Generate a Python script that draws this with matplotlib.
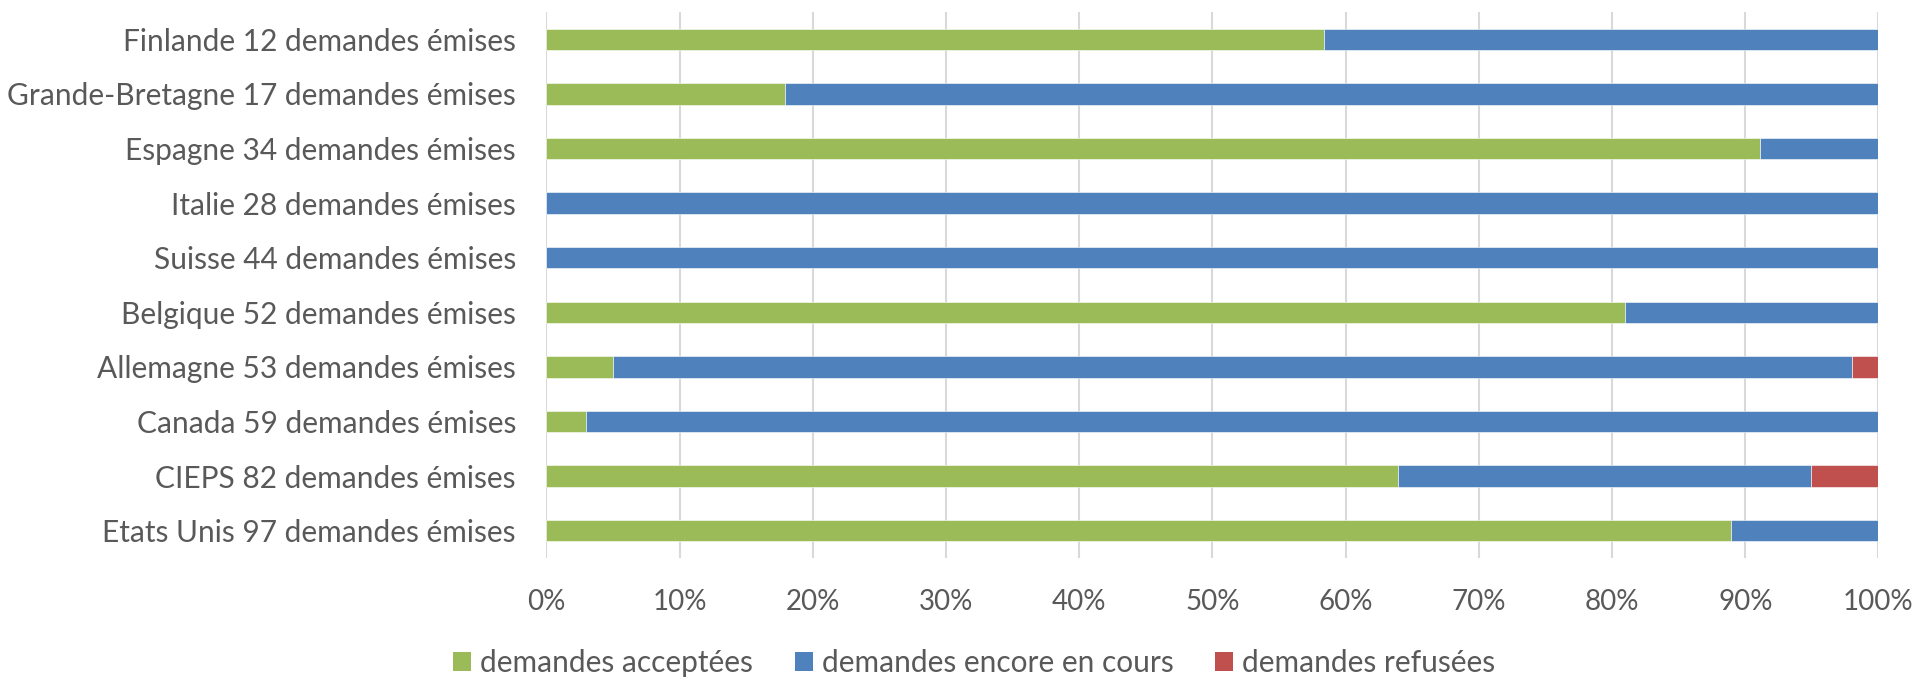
import matplotlib as mpl
import matplotlib.pyplot as plt
import numpy as np
from matplotlib.patches import Patch

plt.rcParams['font.family'] = ['Lato', 'DejaVu Sans']

categories = ["Etats Unis 97 demandes émises",
              "CIEPS 82 demandes émises",
              "Canada 59 demandes émises",
              "Allemagne 53 demandes émises",
              "Belgique 52 demandes émises",
              "Suisse 44 demandes émises",
              "Italie 28 demandes émises",
              "Espagne 34 demandes émises",
              "Grande-Bretagne 17 demandes émises",
              "Finlande 12 demandes émises"]

# shares in %
acceptees = [88.9, 63.9, 3.0, 5.0, 81.0, 0.0, 0.0, 91.1, 17.9, 58.4]
en_cours = [11.1, 31.0, 97.0, 93.0, 19.0, 100.0, 100.0, 8.9, 82.1, 41.6]
refusees = [0.0, 5.1, 0.0, 2.0, 0.0, 0.0, 0.0, 0.0, 0.0, 0.0]

series_names = ["demandes acceptées", "demandes encore en cours", "demandes refusées"]
colors = ["#9BBB59", "#4F81BD", "#C0504D"]
txt = "#595959"

fig = plt.figure(figsize=(19.18, 6.78), dpi=100)
ax = fig.add_axes([0.2849, 0.177, 0.6945, 0.8053])

y = np.arange(len(categories))
left = np.zeros(len(categories))
for vals, c in zip([acceptees, en_cours, refusees], colors):
    vals = np.array(vals)
    ax.barh(y, vals, left=left, height=0.39, color=c, edgecolor='white', linewidth=0.4, zorder=3)
    left = left + vals

ax.set_xlim(0, 100)
ax.set_ylim(-0.5, len(categories) - 0.5)
ax.set_xticks(np.arange(0, 101, 10))
ax.set_xticklabels([f"{v}%" for v in range(0, 101, 10)])
ax.set_yticks(y)
ax.set_yticklabels(categories)
ax.tick_params(axis='y', length=0, labelsize=21.5, labelcolor=txt, pad=22)
ax.tick_params(axis='x', length=0, labelsize=20, labelcolor=txt, pad=22)
ax.grid(axis='x', color='#D9D9D9', linewidth=1.5, zorder=0)
for s in ax.spines.values():
    s.set_visible(False)

handles = [Patch(facecolor=c, label=n) for c, n in zip(colors, series_names)]
fig.legend(handles=handles, loc='center', bbox_to_anchor=(0.508, 0.022), ncol=3,
           frameon=False, fontsize=21.5, labelcolor=txt, handlelength=0.6, handleheight=0.6,
           handletextpad=0.3, columnspacing=1.4)

plt.savefig('out.png', dpi=100)
